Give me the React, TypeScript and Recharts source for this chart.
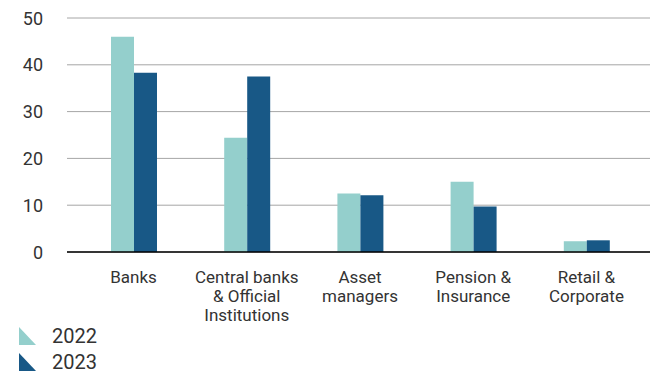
import React from "react";
import { BarChart, Bar, XAxis, YAxis, CartesianGrid } from "recharts";

const categories = ["Banks", "Central banks & Official Institutions", "Asset managers", "Pension & Insurance", "Retail & Corporate"];
const categoryLines = [["Banks"], ["Central banks", "& Official", "Institutions"], ["Asset", "managers"], ["Pension &", "Insurance"], ["Retail &", "Corporate"]];
const values2022 = [46.0, 24.4, 12.5, 15.0, 2.3];
const values2023 = [38.3, 37.5, 12.1, 9.7, 2.5];
const yTicks = [0, 10, 20, 30, 40, 50];
const seriesNames = ["2022", "2023"];
const colors = ["#94cfcc", "#185886"];

const data = categories.map((c, i) => ({ name: c, idx: i, v2022: values2022[i], v2023: values2023[i] }));

const FONT = "Roboto, 'DejaVu Sans', sans-serif";

const XTick = (props: any) => {
  const { x, y, index } = props;
  const lines = categoryLines[index] || [];
  return (
    <g>
      {lines.map((l, i) => (
        <text key={i} x={x} y={y + 24.5 + i * 19} textAnchor="middle" dominantBaseline="central" fontSize={17} fill="#333" fontFamily={FONT}>
          {l}
        </text>
      ))}
    </g>
  );
};

const YTick = (props: any) => {
  const { x, y, payload } = props;
  return (
    <text x={x} y={y} textAnchor="end" dominantBaseline="central" fontSize={18} fill="#333" fontFamily={FONT}>
      {payload.value}
    </text>
  );
};

const LegendBlock = () => (
  <div style={{ fontFamily: FONT, position: "absolute", left: 19, top: 323 }}>
    {seriesNames.map((n, i) => (
      <div key={n} style={{ display: "flex", alignItems: "center", height: 26 }}>
        <svg width={17} height={18} style={{ display: "block" }}>
          <polygon points="0,0 17,18 0,18" fill={colors[i]} />
        </svg>
        <span style={{ marginLeft: 16, fontSize: 20, color: "#333", lineHeight: "20px" }}>{n}</span>
      </div>
    ))}
  </div>
);

export default function App() {
  return (
    <div style={{ width: 650, height: 376, position: "relative", overflow: "hidden" }}>
      <style>{`html,body{margin:0;padding:0;overflow:hidden}`}</style>
      <BarChart
        width={650}
        height={376}
        data={data}
        margin={{ top: 18, right: 0, left: 0, bottom: 94 }}
        barGap={0}
        barSize={23}
      >
        <CartesianGrid vertical={false} stroke="#a6a6a6" strokeWidth={1} />
        <XAxis
          dataKey="name"
          tickLine={false}
          axisLine={{ stroke: "#000", strokeWidth: 1.5 }}
          tickSize={0}
          tickMargin={0}
          height={30}
          interval={0}
          padding={{ left: 10, right: 7 }}
          tick={<XTick />}
        />
        <YAxis
          width={67}
          domain={[0, 50]}
          ticks={yTicks}
          axisLine={false}
          tickLine={false}
          tickSize={0}
          tickMargin={24}
          tick={<YTick />}
        />
        <Bar dataKey="v2022" name={seriesNames[0]} fill={colors[0]} isAnimationActive={false} />
        <Bar dataKey="v2023" name={seriesNames[1]} fill={colors[1]} isAnimationActive={false} />
      </BarChart>
      <LegendBlock />
    </div>
  );
}
